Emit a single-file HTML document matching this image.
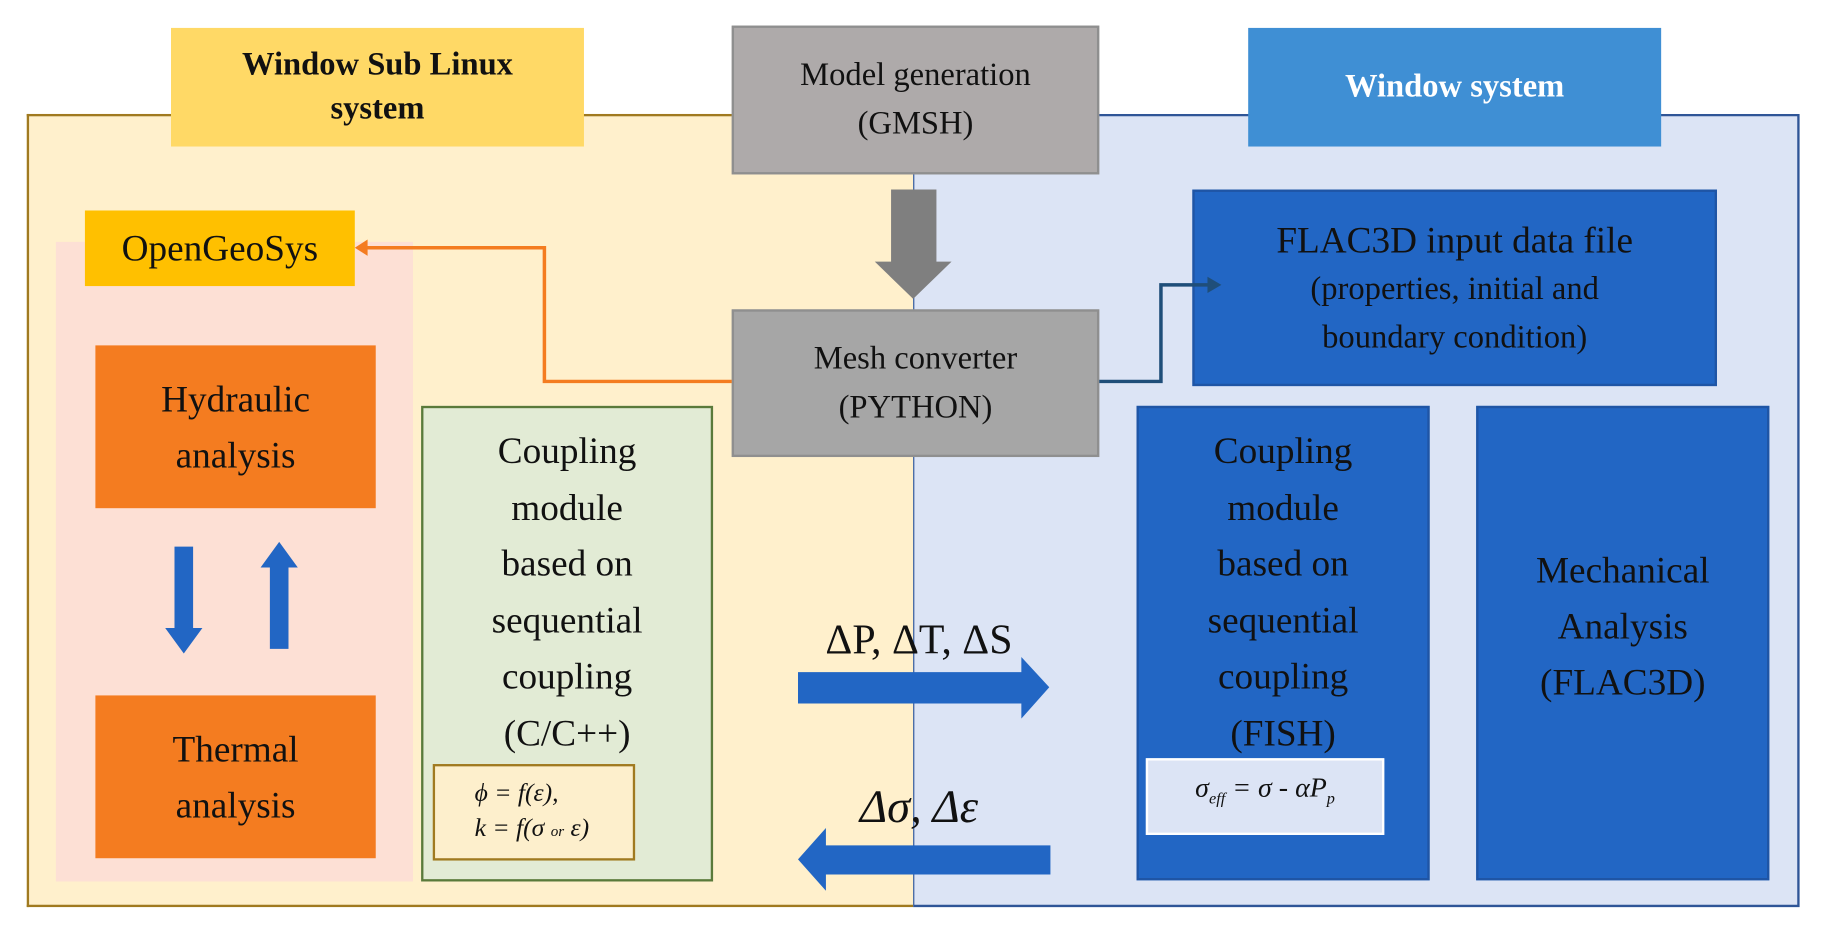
<!DOCTYPE html>
<html><head><meta charset="utf-8"><style>
html,body{margin:0;padding:0;background:#fff;overflow:hidden}
#w{position:absolute;left:0;top:0;width:1568px;height:798px;transform:scale(1.16327,1.16291);transform-origin:0 0;font-family:"Liberation Serif",serif;}
.b{position:absolute;box-sizing:border-box;display:flex;flex-direction:column;align-items:center;justify-content:center;text-align:center;color:#111}
</style></head><body><div id="w">
<div class="b" style="left:23px;top:98px;width:762px;height:682px;background:#fff0cc;border:2px solid #a07a20;border-right:none"></div>
<div class="b" style="left:785px;top:98px;width:762px;height:682px;background:#dce4f5;border:2px solid #2f5597;border-left:1px solid #2f5597"></div>
<div class="b" style="left:48px;top:208px;width:307px;height:550px;background:#fde0d5"></div>
<div class="b" style="left:147px;top:24px;width:355px;height:102px;background:#ffd966;font-weight:bold;font-size:28px;line-height:38px">Window Sub Linux<br>system</div>
<div class="b" style="left:1073px;top:24px;width:355px;height:102px;background:#3f8fd4;color:#fff;font-weight:bold;font-size:28px">Window system</div>
<div class="b" style="left:629px;top:22px;width:316px;height:128px;background:#aeaaaa;border:2px solid #8f8f8f;font-size:28px;line-height:42px">Model generation<br>(GMSH)</div>
<div class="b" style="left:629px;top:266px;width:316px;height:127px;background:#a6a6a6;border:2px solid #8f8f8f;font-size:28px;line-height:42px">Mesh converter<br>(PYTHON)</div>
<div class="b" style="left:1025px;top:163px;width:451px;height:169px;background:#2266c4;border:2px solid #1f55a5;font-size:32px;line-height:44px"><span>FLAC3D input data file</span><span style="font-size:28px;line-height:42px">(properties, initial and<br>boundary condition)</span></div>
<div class="b" style="left:73px;top:181px;width:232px;height:65px;background:#ffc000;font-size:32px">OpenGeoSys</div>
<div class="b" style="left:82px;top:297px;width:241px;height:140px;background:#f47c20;font-size:32px;line-height:48px">Hydraulic<br>analysis</div>
<div class="b" style="left:82px;top:598px;width:241px;height:140px;background:#f47c20;font-size:32px;line-height:48px">Thermal<br>analysis</div>
<div class="b" style="left:362px;top:349px;width:251px;height:409px;background:#e2ebd5;border:2px solid #5a7a3a;justify-content:flex-start;padding-top:12px;font-size:32px;line-height:48.5px">Coupling<br>module<br>based on<br>sequential<br>coupling<br>(C/C++)</div>
<div class="b" style="left:372px;top:657px;width:174px;height:83px;background:#fdefcc;border:2px solid #a07a20;align-items:flex-start;padding-left:34px;font-size:22px;font-style:italic;line-height:30px;text-align:left"><span>ϕ = f(ε),</span><span>k = f(σ <span style="font-size:13px">or</span> ε)</span></div>
<div class="b" style="left:977px;top:349px;width:252px;height:408px;background:#2266c4;border:2px solid #1f55a5;justify-content:flex-start;padding-top:12px;font-size:32px;line-height:48.5px">Coupling<br>module<br>based on<br>sequential<br>coupling<br>(FISH)</div>
<div class="b" style="left:985px;top:652px;width:205px;height:66px;background:#dce4f5;border:2px solid #fff;font-size:24px;font-style:italic;padding-bottom:10px"><span>σ<sub style="font-size:14px">eff</sub> = σ - αP<sub style="font-size:14px">p</sub></span></div>
<div class="b" style="left:1269px;top:349px;width:252px;height:408px;background:#2266c4;border:2px solid #1f55a5;font-size:32px;line-height:48px;padding-bottom:30px">Mechanical<br>Analysis<br>(FLAC3D)</div>
<div class="b" style="left:680px;top:525px;width:220px;height:50px;font-size:36px">ΔP, ΔT, ΔS</div>
<div class="b" style="left:700px;top:668px;width:180px;height:50px;font-size:40px;font-style:italic">Δσ, Δε</div>
<svg style="position:absolute;left:0;top:0" width="1568" height="798">
<polygon points="766,163 805,163 805,225 818,225 785,257 752,225 766,225" fill="#7f7f7f"/>
<polyline points="629,328 468,328 468,213 314,213" fill="none" stroke="#f47c20" stroke-width="3"/>
<polygon points="305,213 316,206 316,220" fill="#f47c20"/>
<polyline points="945,328 998,328 998,245 1040,245" fill="none" stroke="#1f4e79" stroke-width="3"/>
<polygon points="1050,245 1038,238 1038,252" fill="#1f4e79"/>
<polygon points="686,578 878,578 878,565 902,591 878,618 878,605 686,605" fill="#2266c4"/>
<polygon points="903,727 710,727 710,712 686,739 710,766 710,752 903,752" fill="#2266c4"/>
<polygon points="150,470 166,470 166,540 174,540 158,562 142,540 150,540" fill="#2266c4"/>
<polygon points="232,558 248,558 248,488 256,488 240,466 224,488 232,488" fill="#2266c4"/>
</svg>
</div></body></html>
